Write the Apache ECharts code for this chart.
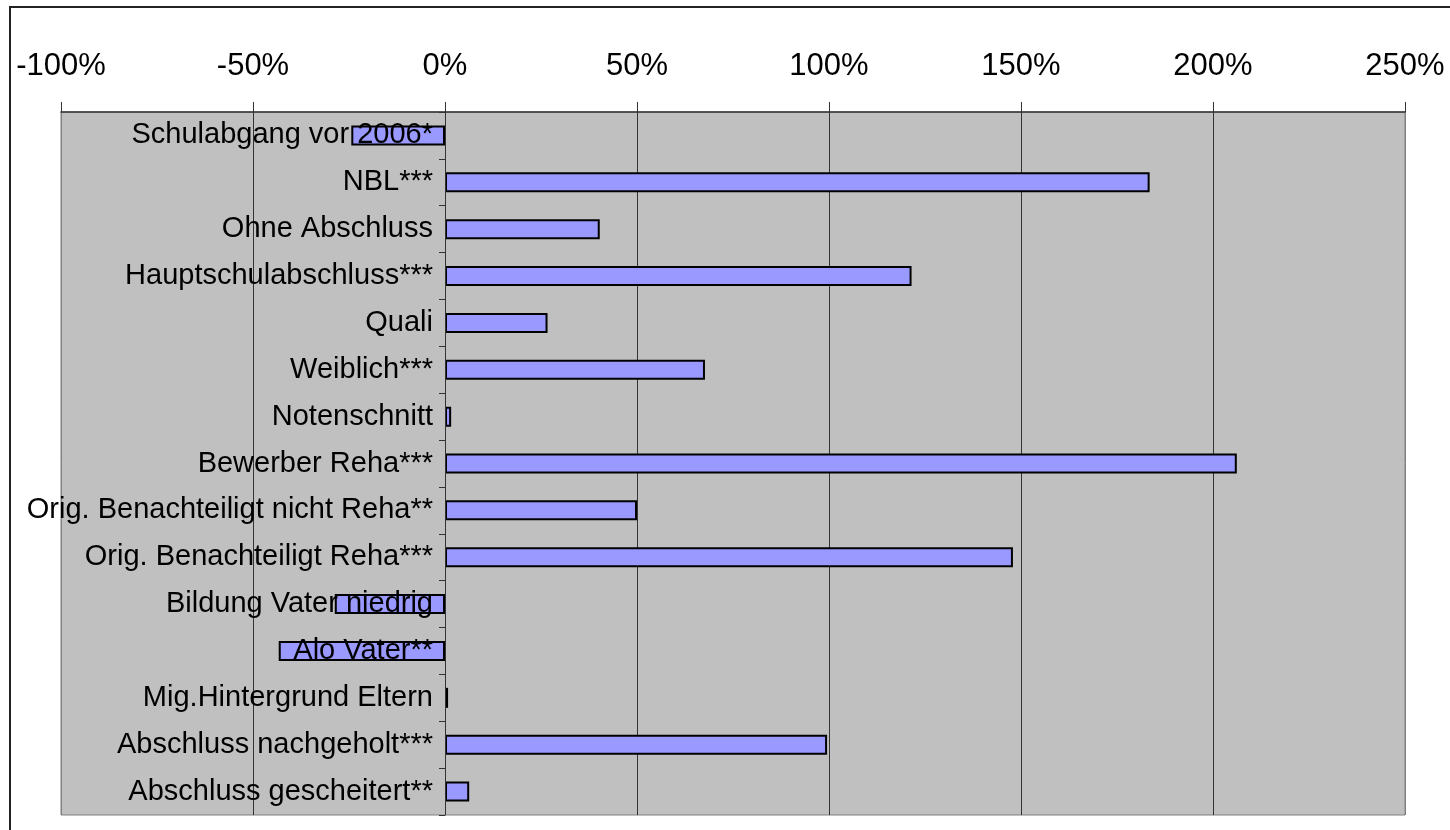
<!DOCTYPE html>
<html>
<head>
<meta charset="utf-8">
<script src="https://cdn.jsdelivr.net/npm/echarts@6/dist/echarts.min.js"></script>
<style>
    html, body { margin: 0; padding: 0; background: #fff; }
    #chartArea { width: 1450px; height: 830px; }
</style>
</head>
<body>
<div id="chartArea"></div>
<script>
var categories = [
    'Schulabgang vor 2006*',
    'NBL***',
    'Ohne Abschluss',
    'Hauptschulabschluss***',
    'Quali',
    'Weiblich***',
    'Notenschnitt',
    'Bewerber Reha***',
    'Orig. Benachteiligt nicht Reha**',
    'Orig. Benachteiligt Reha***',
    'Bildung Vater niedrig',
    'Alo Vater**',
    'Mig.Hintergrund Eltern',
    'Abschluss nachgeholt***',
    'Abschluss gescheitert**'
];
var effects = [-24.4, 183.5, 40.3, 121.5, 26.7, 67.7, 1.6, 206.2, 50, 147.9, -28.7, -43.3, 0.8, 99.5, 6.3];
var xMin = -100;
var xMax = 250;
var xStep = 50;

var font = "'Liberation Sans', Arial, sans-serif";
var gridLeft = 61, gridRight = 45;
var plotWidth = 1450 - gridLeft - gridRight;
// move the category axis (and its labels) onto the 0% line
var zeroOffset = -(0 - xMin) / (xMax - xMin) * plotWidth;

var chartDom = document.getElementById('chartArea');
var myChart = echarts.init(chartDom);
var option;

option = {
    animation: false,
    backgroundColor: '#fff',
    graphic: [{
        type: 'rect',
        shape: { x: 10, y: 7, width: 1460, height: 840 },
        style: { fill: 'none', stroke: '#222', lineWidth: 2 },
        silent: true
    }],
    grid: {
        left: gridLeft,
        right: gridRight,
        top: 112,
        bottom: 15,
        containLabel: false,
        outerBoundsMode: 'none',
        show: true,
        backgroundColor: '#C0C0C0',
        borderColor: '#808080',
        borderWidth: 1
    },
    xAxis: {
        type: 'value',
        position: 'top',
        min: xMin,
        max: xMax,
        interval: xStep,
        axisLine: { show: true, lineStyle: { color: '#333', width: 1.5 } },
        axisTick: { show: true, length: 10, lineStyle: { color: '#333' } },
        axisLabel: {
            formatter: '{value}%',
            fontFamily: font,
            fontSize: 31,
            color: '#000',
            margin: 30
        },
        splitLine: {
            show: true,
            lineStyle: {
                color: ['#808080', '#333', '#333', '#333', '#333', '#333', '#333', '#808080'],
                width: 1
            }
        }
    },
    yAxis: {
        type: 'category',
        data: categories,
        inverse: true,
        position: 'left',
        offset: zeroOffset,
        z: 5,
        axisLine: { show: true, onZero: false, lineStyle: { color: '#333', width: 1 } },
        axisTick: { show: true, length: 6, lineStyle: { color: '#333' } },
        axisLabel: {
            fontFamily: font,
            fontSize: 29,
            color: '#000',
            margin: 12
        },
        splitLine: { show: false }
    },
    series: [{
        type: 'bar',
        data: effects,
        barWidth: 20,
        itemStyle: {
            color: '#9999FF',
            borderColor: '#000',
            borderWidth: 2
        }
    }]
};

option && myChart.setOption(option);
</script>
</body>
</html>
